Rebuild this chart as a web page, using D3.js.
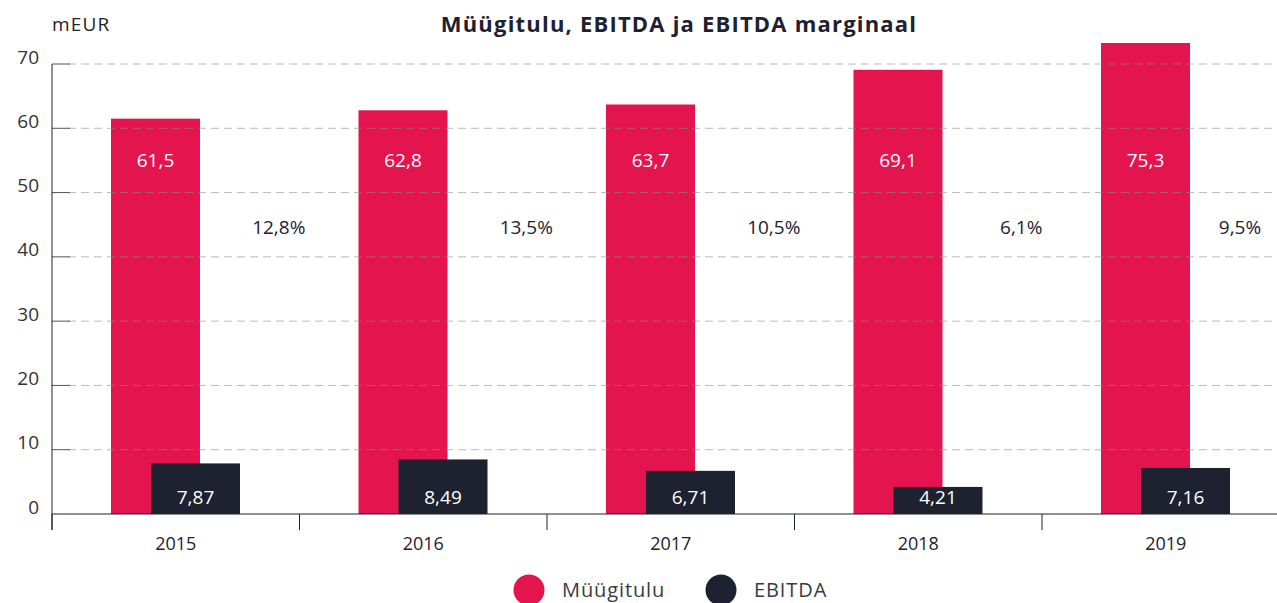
<!DOCTYPE html>
<html>
<head>
<meta charset="utf-8">
<script src="https://cdn.jsdelivr.net/npm/d3@7"></script>
<style>
  body { margin: 0; background: #fff; }
  svg { display: block; font-family: "Open Sans", "DejaVu Sans", sans-serif; }
</style>
</head>
<body>
<svg id="chart" width="1277" height="603"></svg>
<script>
// data
const years = ["2015", "2016", "2017", "2018", "2019"];
const revenue = [61.5, 62.8, 63.7, 69.1, 75.3];      // Müügitulu
const ebitda = [7.87, 8.49, 6.71, 4.21, 7.16];       // EBITDA
const margin = ["12,8%", "13,5%", "10,5%", "6,1%", "9,5%"];
const yTicks = [0, 10, 20, 30, 40, 50, 60, 70];

const red = "#e4144f";
const dark = "#1e2130";

let svg = d3.select("#chart");
let left = 52, right = 1277;
let plotTop = 43, bottom = 514;

let xScale = d3.scaleBand()
    .domain(years)
    .range([left, left + 5 * 247.5]);
let bw = xScale.bandwidth();

let yScale = d3.scaleLinear()
    .domain([0, 70])
    .range([bottom, 64]);

let fmt = v => String(v).replace(".", ",");

// plot clip (top of the plot area)
svg.append("defs").append("clipPath").attr("id", "plot")
    .append("rect")
    .attr("x", left).attr("y", plotTop)
    .attr("width", right - left).attr("height", bottom - plotTop);

let gBars = svg.append("g").attr("clip-path", "url(#plot)");

let data = years.map((y, i) => ({year: y, rev: revenue[i], ebitda: ebitda[i], m: margin[i]}));

let barW = 89;
// Müügitulu bars
gBars.selectAll(".rev")
    .data(data)
    .enter()
    .append("rect")
    .attr("class", "rev")
    .attr("x", d => xScale(d.year) + bw / 2 - 64.75)
    .attr("y", d => yScale(d.rev))
    .attr("width", barW)
    .attr("height", d => bottom - yScale(d.rev))
    .attr("fill", red);

// EBITDA bars
gBars.selectAll(".ebitda")
    .data(data)
    .enter()
    .append("rect")
    .attr("class", "ebitda")
    .attr("x", d => xScale(d.year) + bw / 2 - 24.75)
    .attr("y", d => yScale(d.ebitda))
    .attr("width", barW)
    .attr("height", d => bottom - yScale(d.ebitda))
    .attr("fill", dark);

// gridlines drawn on top of the bars
let gGrid = svg.append("g");
gGrid.selectAll("line.grid")
    .data(yTicks.filter(t => t > 0))
    .enter()
    .append("line")
    .attr("class", "grid")
    .attr("x1", left + 16)
    .attr("x2", right)
    .attr("y1", d => yScale(d))
    .attr("y2", d => yScale(d))
    .attr("stroke", "rgba(140,140,140,0.6)")
    .attr("stroke-dasharray", "8,5");

gGrid.selectAll("line.tk")
    .data(yTicks.filter(t => t > 0))
    .enter()
    .append("line")
    .attr("class", "tk")
    .attr("x1", left)
    .attr("x2", left + 18)
    .attr("y1", d => yScale(d))
    .attr("y2", d => yScale(d))
    .attr("stroke", "#555");

// y axis
let yAxis = d3.axisLeft(yScale).tickValues(yTicks).tickSize(0).tickPadding(13);
let gy = svg.append("g").attr("transform", "translate(" + left + ",0)").call(yAxis);
gy.select(".domain").attr("stroke", dark).attr("d", "M0," + yScale(70) + "V" + (bottom + 16));
gy.selectAll("text")
    .attr("font-size", 19)
    .attr("fill", "#333")
    .attr("dy", "-0.05em")
    .style("font-family", "Open Sans");

// x axis
let xAxis = d3.axisBottom(xScale).tickSize(0).tickPadding(23);
let gx = svg.append("g").attr("transform", "translate(0," + bottom + ")").call(xAxis);
gx.select(".domain").attr("stroke", dark).attr("d", "M" + left + ",0H" + right);
gx.selectAll("text")
    .attr("font-size", 18)
    .attr("fill", dark)
    .style("font-family", "Open Sans");
gx.selectAll("line.sep")
    .data(years)
    .enter()
    .append("line")
    .attr("class", "sep")
    .attr("x1", d => xScale(d))
    .attr("x2", d => xScale(d))
    .attr("y1", 0)
    .attr("y2", 16)
    .attr("stroke", dark);

// value labels
let gLab = svg.append("g").attr("font-size", 19);
gLab.selectAll(".revLab")
    .data(data)
    .enter()
    .append("text")
    .attr("x", d => xScale(d.year) + bw / 2 - 64.75 + barW / 2)
    .attr("y", 167)
    .attr("text-anchor", "middle")
    .attr("fill", "#fff")
    .text(d => fmt(d.rev));

gLab.selectAll(".ebLab")
    .data(data)
    .enter()
    .append("text")
    .attr("x", d => xScale(d.year) + bw / 2 - 24.75 + barW / 2)
    .attr("y", 504)
    .attr("text-anchor", "middle")
    .attr("fill", "#fff")
    .text(d => fmt(d.ebitda));

gLab.selectAll(".mLab")
    .data(data)
    .enter()
    .append("text")
    .attr("x", d => Math.min(xScale(d.year) + bw / 2 + 103, 1240))
    .attr("y", 234)
    .attr("text-anchor", "middle")
    .attr("fill", dark)
    .text(d => d.m);

// title and unit
svg.append("text")
    .attr("x", 679).attr("y", 32)
    .attr("text-anchor", "middle")
    .attr("font-size", 22)
    .attr("font-weight", "bold")
    .attr("letter-spacing", 1.2)
    .attr("fill", dark)
    .text("Müügitulu, EBITDA ja EBITDA marginaal");

svg.append("text")
    .attr("x", left).attr("y", 31)
    .attr("font-size", 19)
    .attr("letter-spacing", 1.2)
    .attr("fill", dark)
    .text("mEUR");

// legend
let legend = [{name: "Müügitulu", color: red, x: 529}, {name: "EBITDA", color: dark, x: 721}];
let gLeg = svg.append("g");
gLeg.selectAll("circle")
    .data(legend)
    .enter()
    .append("circle")
    .attr("cx", d => d.x)
    .attr("cy", 590)
    .attr("r", 15.5)
    .attr("fill", d => d.color);
gLeg.selectAll("text")
    .data(legend)
    .enter()
    .append("text")
    .attr("x", d => d.x + 33)
    .attr("y", 597)
    .attr("font-size", 20)
    .attr("letter-spacing", 0.9)
    .attr("fill", "#3a3a44")
    .text(d => d.name);
</script>
</body>
</html>
